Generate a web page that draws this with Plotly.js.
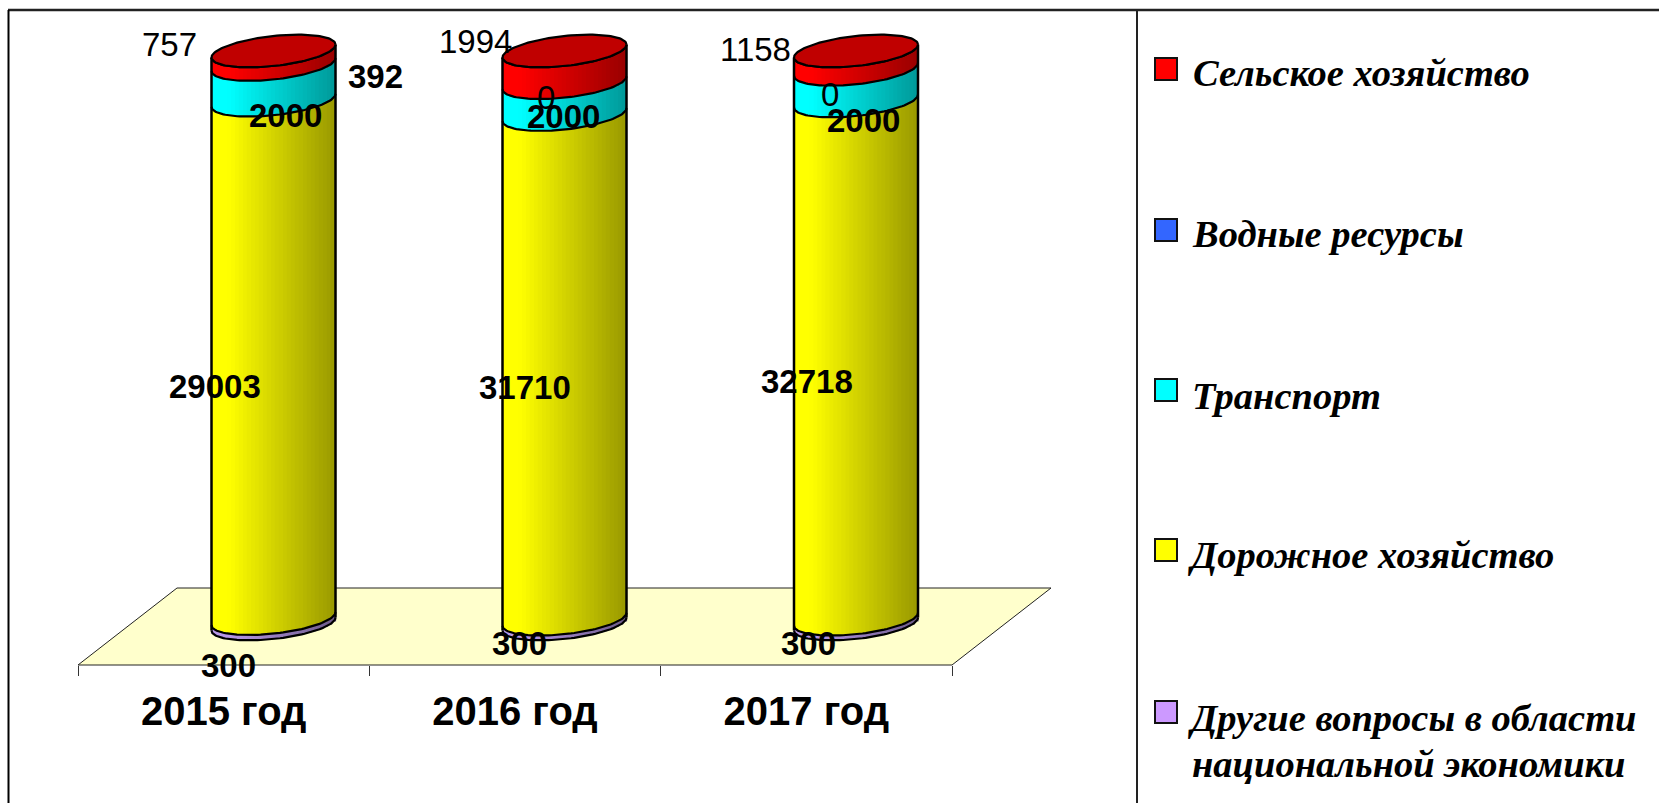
<!DOCTYPE html>
<html>
<head>
<meta charset="utf-8">
<script src="https://cdn.plot.ly/plotly-3.0.1.min.js"></script>
<style>html,body{margin:0;padding:0;background:#fff;overflow:hidden}#chart{width:1659px;height:803px}</style>
</head>
<body>
<div id="chart"></div>
<script>
// ---- data ----
var categories = ['2015 год', '2016 год', '2017 год'];
var otherValues = [300, 300, 300];
var roadValues = [29003, 31710, 32718];
var transportValues = [2000, 2000, 2000];
var waterValues = [392, 0, 0];   // labelled, but no band is visible in the reference
var agricultureValues = [757, 1994, 1158];
var legendNames = ['Сельское хозяйство', 'Водные ресурсы', 'Транспорт', 'Дорожное хозяйство', 'Другие вопросы в области', 'национальной экономики'];
var legendColors = ['#FF0000', '#3366FF', '#00FFFF', '#FFFF00', '#CC99FF'];

// ---- page geometry (pixels) ----
var W = 1659, H = 803;
var plotL = 78, plotR = 952, plotT = 20, plotB = 665;
var zeroY = 624, fullY = 51;
var pxPerPct = (zeroY - fullY) / 100;
var pxPerCat = (plotR - plotL) / 3;
var cylinderCenters = [273.5, 564.5, 856].map(function (p) { return (p - plotL) / pxPerCat; });
var halfWidthPx = 62, ellipseH = 15, ellipseSkew = 6.5, sliceCount = 31;
function px(x) { return (x - plotL) / (plotR - plotL); }
function py(y) { return (plotB - y) / (plotB - plotT); }
function frontPx(t) { return -ellipseSkew * t + ellipseH * Math.sqrt(Math.max(0, 1 - t * t)); }
function shade(hex, t) {
  var f = t < -0.72 ? 1 : 1 - 0.4 * (t + 0.72) / 1.72;
  var n = parseInt(hex.slice(1), 16);
  return 'rgb(' + [(n >> 16) & 255, (n >> 8) & 255, n & 255].map(function (c) { return Math.round(c * f); }).join(',') + ')';
}

// stacked to 100 %, bottom to top
var stack = [
  { values: otherValues, color: '#B898E8' },
  { values: roadValues, color: '#FFFF00' },
  { values: transportValues, color: '#00FFFF' },
  { values: agricultureValues, color: '#FF0000' }
];
var totals = categories.map(function (_, i) {
  return stack.reduce(function (s, g) { return s + g.values[i]; }, 0);
});

var traces = [];
var cumulative = categories.map(function () { return 0; });
var boundaries = [categories.map(function () { return 0; })];
stack.forEach(function (series) {
  var xs = [], ys = [], bases = [], widths = [], colors = [];
  categories.forEach(function (_, i) {
    var pct = series.values[i] / totals[i] * 100;
    for (var k = 0; k < sliceCount; k++) {
      var t = -1 + (2 * k + 1) / sliceCount;
      xs.push(cylinderCenters[i] + t * halfWidthPx / pxPerCat);
      ys.push(pct);
      bases.push(cumulative[i] - frontPx(t) / pxPerPct);
      widths.push(2 * halfWidthPx / pxPerCat / sliceCount * 1.3);
      colors.push(shade(series.color, t));
    }
    cumulative[i] += pct;
  });
  boundaries.push(cumulative.slice());
  traces.push({ type: 'bar', x: xs, y: ys, base: bases, width: widths, marker: { color: colors, line: { width: 0 } }, hoverinfo: 'skip', showlegend: false });
});

// outlines along each band edge, then sides and top face
categories.forEach(function (_, i) {
  var c = cylinderCenters[i], hw = halfWidthPx / pxPerCat;
  boundaries.forEach(function (level) {
    var lx = [], ly = [];
    for (var a = 0; a <= 60; a++) {
      var t = Math.cos(Math.PI - a / 60 * Math.PI);
      lx.push(c + t * hw);
      ly.push(level[i] - frontPx(t) / pxPerPct);
    }
    traces.push({ type: 'scatter', mode: 'lines', x: lx, y: ly, line: { color: '#000', width: 2.2 }, hoverinfo: 'skip', showlegend: false });
  });
  [-1, 1].forEach(function (t) {
    traces.push({ type: 'scatter', mode: 'lines', x: [c + t * hw, c + t * hw],
      y: [0 - frontPx(t) / pxPerPct, 100 - frontPx(t) / pxPerPct],
      line: { color: '#000', width: 2.5 }, hoverinfo: 'skip', showlegend: false });
  });
  var ex = [], ey = [];
  for (var a = 0; a <= 120; a++) {
    var th = a / 120 * 2 * Math.PI, t = Math.cos(th);
    ex.push(c + t * hw);
    ey.push(100 - (-ellipseSkew * t + ellipseH * Math.sin(th)) / pxPerPct);
  }
  traces.push({ type: 'scatter', mode: 'lines', x: ex, y: ey, fill: 'toself', fillcolor: '#C00000', line: { color: '#000', width: 2.2 }, hoverinfo: 'skip', showlegend: false });
});

// tick marks between categories, on an overlaid axis
traces.push({ type: 'scatter', mode: 'markers', x: [0, 3], y: [0, 0], xaxis: 'x2', marker: { opacity: 0 }, hoverinfo: 'skip', showlegend: false });

// ---- data labels (positions as placed by hand in the reference) ----
var labelSpots = [
  { v: agricultureValues[0], x: 169, y: 45, b: 0 }, { v: waterValues[0], x: 375, y: 76, b: 1 },
  { v: transportValues[0], x: 285, y: 115, b: 1 }, { v: roadValues[0], x: 215, y: 386, b: 1 }, { v: otherValues[0], x: 228, y: 665, b: 1 },
  { v: agricultureValues[1], x: 475, y: 42, b: 0 }, { v: waterValues[1], x: 546, y: 98, b: 0 },
  { v: transportValues[1], x: 563, y: 116, b: 1 }, { v: roadValues[1], x: 525, y: 387, b: 1 }, { v: otherValues[1], x: 519, y: 643, b: 1 },
  { v: agricultureValues[2], x: 755, y: 50, b: 0 }, { v: waterValues[2], x: 830, y: 95, b: 0 },
  { v: transportValues[2], x: 863, y: 120, b: 1 }, { v: roadValues[2], x: 807, y: 381, b: 1 }, { v: otherValues[2], x: 808, y: 643, b: 1 }
];
var annotations = labelSpots.map(function (s) {
  return { xref: 'paper', yref: 'paper', x: px(s.x), y: py(s.y), xanchor: 'center', yanchor: 'middle', showarrow: false,
    text: s.b ? '<b>' + s.v + '</b>' : String(s.v), font: { family: 'Liberation Sans', size: 33, color: '#000' } };
});

// ---- legend ----
var legendSwatchY = [58, 219, 379, 539, 701];
var legendTextY = [73, 234, 396, 555, 718, 764];
var legendTextX = [1191, 1190, 1190, 1186, 1186, 1190];
var shapes = [
  { type: 'path', xref: 'paper', yref: 'paper', layer: 'below',
    path: 'M' + px(78) + ',' + py(665) + ' L' + px(177) + ',' + py(588) + ' L' + px(1051) + ',' + py(588) + ' L' + px(952) + ',' + py(665) + ' Z',
    fillcolor: '#FFFFCC', line: { color: '#222', width: 1 } },
  { type: 'line', xref: 'paper', yref: 'paper', x0: px(8), x1: px(1659), y0: py(10), y1: py(10), line: { color: '#222', width: 2.5 } },
  { type: 'line', xref: 'paper', yref: 'paper', x0: px(8.5), x1: px(8.5), y0: py(10), y1: py(803), line: { color: '#000', width: 2 } },
  { type: 'line', xref: 'paper', yref: 'paper', x0: px(1137), x1: px(1137), y0: py(10), y1: py(803), line: { color: '#222', width: 2 } }
];
legendColors.forEach(function (color, i) {
  shapes.push({ type: 'rect', xref: 'paper', yref: 'paper', x0: px(1155), x1: px(1177), y0: py(legendSwatchY[i]), y1: py(legendSwatchY[i] + 22),
    fillcolor: color, line: { color: '#111', width: 2 } });
});
legendNames.forEach(function (name, i) {
  annotations.push({ xref: 'paper', yref: 'paper', x: px(legendTextX[i]), y: py(legendTextY[i]), xanchor: 'left', yanchor: 'middle', align: 'left', showarrow: false,
    text: '<b><i>' + name + '</i></b>', font: { family: 'Liberation Serif', size: 38.5, color: '#000' } });
});

var layout = {
  width: W, height: H,
  margin: { l: plotL, r: W - plotR, t: plotT, b: H - plotB, pad: 0 },
  paper_bgcolor: '#fff', plot_bgcolor: 'rgba(0,0,0,0)',
  barmode: 'overlay', showlegend: false,
  xaxis: { range: [0, 3], tickmode: 'array', tickvals: [0.5, 1.5, 2.5], ticktext: categories, ticks: '', showgrid: false, zeroline: false,
    showline: false, tickfont: { family: 'Liberation Sans', size: 40, color: '#000', weight: 700 }, ticklabelstandoff: 19, fixedrange: true },
  xaxis2: { range: [0, 3], overlaying: 'x', anchor: 'y', side: 'bottom', tickmode: 'array', tickvals: [0, 1, 2, 3], ticktext: ['', '', '', ''],
    ticks: 'outside', ticklen: 10, tickcolor: '#333', tickwidth: 1, showgrid: false, zeroline: false, showline: false, fixedrange: true },
  yaxis: { range: [(zeroY - plotB) / pxPerPct, (zeroY - plotT) / pxPerPct], visible: false, fixedrange: true },
  shapes: shapes, annotations: annotations
};
Plotly.newPlot('chart', traces, layout, { displayModeBar: false, staticPlot: true });
</script>
</body>
</html>
